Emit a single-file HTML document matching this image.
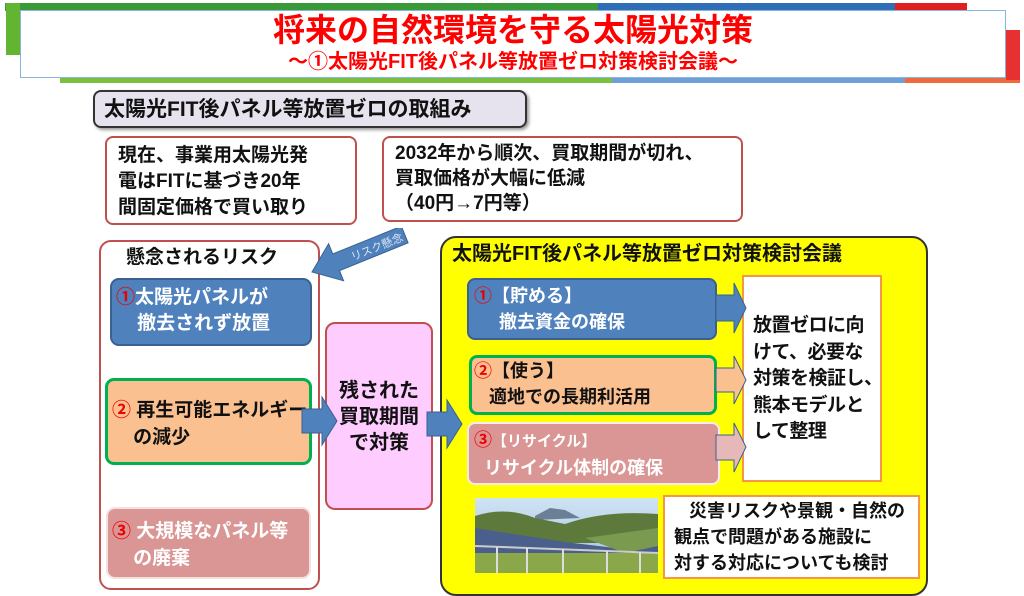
<!DOCTYPE html>
<html><head><meta charset="utf-8"><style>
*{margin:0;padding:0;box-sizing:border-box}
body{width:1024px;height:582px;overflow:hidden;background:#fff;position:relative;font-family:"Liberation Sans","Noto Sans CJK JP",sans-serif;font-weight:bold}
.a{position:absolute}
.t{color:#111}
svg.ar{z-index:5}
</style></head><body>
<!-- banner strips -->
<div class="a" style="left:5px;top:3px;width:593px;height:8px;background:#3a9a3a"></div>
<div class="a" style="left:598px;top:3px;width:297px;height:8px;background:#2f6fb8"></div>
<div class="a" style="left:895px;top:3px;width:72px;height:8px;background:#e02020"></div>
<div class="a" style="left:6px;top:3px;width:14px;height:52px;background:#62b530"></div>
<div class="a" style="left:60px;top:68px;width:552px;height:15px;background:#7cc040"></div>
<div class="a" style="left:612px;top:68px;width:293px;height:15px;background:#6ea0d8"></div>
<div class="a" style="left:905px;top:68px;width:115px;height:15px;background:#f06a40"></div>
<div class="a" style="left:1006px;top:30px;width:14px;height:50px;background:#e83030"></div>
<div class="a" style="left:20px;top:10px;width:986px;height:68px;background:#fff;border:1px solid #8ab4e0"></div>
<div class="a" style="left:20px;top:12px;width:986px;text-align:center;color:#f00;font-size:32px;line-height:36px">将来の自然環境を守る太陽光対策</div>
<div class="a" style="left:20px;top:50px;width:986px;text-align:center;color:#f00;font-size:20px;line-height:24px">～①太陽光FIT後パネル等放置ゼロ対策検討会議～</div>

<div class="a" style="left:93px;top:90px;width:434px;height:38px;background:#e6e2ee;border:2px solid #333;border-radius:8px;box-shadow:2px 2px 3px #999"></div>
<div class="a t" style="left:104px;top:98px;font-size:21px;line-height:24px">太陽光FIT後パネル等放置ゼロの取組み</div>

<div class="a t" style="left:105px;top:136px;width:252px;height:89px;border:2px solid #c0504d;border-radius:8px;padding:5px 0 0 11px;font-size:19px;line-height:26px">現在、事業用太陽光発<br>電はFITに基づき20年<br>間固定価格で買い取り</div>
<div class="a t" style="left:382px;top:136px;width:361px;height:86px;border:2px solid #c0504d;border-radius:8px;padding:3px 0 0 11px;font-size:19px;line-height:25px">2032年から順次、買取期間が切れ、<br>買取価格が大幅に低減<br>（40円→7円等）</div>

<!-- left box -->
<div class="a" style="left:99px;top:240px;width:221px;height:350px;border:2px solid #c0504d;border-radius:12px"></div>
<div class="a t" style="left:126px;top:246px;font-size:19px;line-height:24px">懸念されるリスク</div>
<svg class="a ar" style="left:300px;top:228px" width="120" height="60"><g transform="translate(12,44) rotate(-22)"><polygon points="0,0 26,-20 26,-9 100,-9 100,9 26,9 26,20" fill="#4f81bd" stroke="#3a6190"/><text x="42" y="5" font-size="11" fill="#dde6f4" font-family="Noto Sans CJK JP,sans-serif" font-weight="normal">リスク懸念</text></g></svg>

<div class="a" style="left:110px;top:278px;width:202px;height:68px;background:#4f81bd;border:2px solid #3a6190;border-radius:9px"></div>
<div class="a" style="left:116px;top:285px;color:#fff;font-size:19px;line-height:26px"><span style="color:#e00">①</span>太陽光パネルが<br>&nbsp;&nbsp;&nbsp;&nbsp;撤去されず放置</div>
<div class="a" style="left:105px;top:378px;width:207px;height:87px;background:#fac090;border:3px solid #00b050;border-radius:9px"></div>
<div class="a t" style="left:112px;top:397px;font-size:19px;line-height:27px;white-space:nowrap"><span style="color:#e00">②</span> 再生可能エネルギー<br>&nbsp;&nbsp;&nbsp;&nbsp;の減少</div>
<div class="a" style="left:106px;top:507px;width:205px;height:72px;background:#d99694;border:2px solid #f4e0e0;border-radius:9px"></div>
<div class="a" style="left:112px;top:518px;color:#fff;font-size:19px;line-height:27px"><span style="color:#e00">③</span> 大規模なパネル等<br>&nbsp;&nbsp;&nbsp;&nbsp;の廃棄</div>

<div class="a t" style="left:325px;top:322px;width:108px;height:188px;background:#ffccff;border:2px solid #c0504d;border-radius:10px;text-align:center;padding-top:54px;font-size:20px;line-height:26px">残された<br>買取期間<br>で対策</div>

<!-- yellow -->
<div class="a" style="left:440px;top:236px;width:488px;height:360px;background:#ffff00;border:2px solid #333;border-radius:16px"></div>
<svg class="a ar" style="left:300px;top:395px" width="40" height="55"><polygon points="2,14 22,14 22,2 37,26 22,50 22,38 2,38" fill="#4f81bd" stroke="#3a6190"/></svg>
<svg class="a ar" style="left:425px;top:398px" width="40" height="55"><polygon points="2,14 22,14 22,2 37,26 22,50 22,38 2,38" fill="#4f81bd" stroke="#3a6190"/></svg>
<div class="a t" style="left:452px;top:242px;font-size:20px;line-height:24px">太陽光FIT後パネル等放置ゼロ対策検討会議</div>
<div class="a" style="left:467px;top:278px;width:250px;height:62px;background:#4f81bd;border:2px solid #3a6190;border-radius:8px"></div>
<div class="a" style="left:474px;top:283px;color:#fff;font-size:18px;line-height:26px"><span style="color:#e00">①</span>【貯める】<br>&nbsp;&nbsp;&nbsp;&nbsp;&nbsp;撤去資金の確保</div>
<div class="a" style="left:469px;top:355px;width:248px;height:60px;background:#fac090;border:3px solid #00b050;border-radius:8px"></div>
<div class="a t" style="left:474px;top:358px;font-size:18px;line-height:26px"><span style="color:#e00">②</span>【使う】<br>&nbsp;&nbsp;&nbsp;適地での長期利活用</div>
<div class="a" style="left:467px;top:422px;width:253px;height:63px;background:#d99694;border:2px solid #fbeaea;border-radius:8px"></div>
<div class="a" style="left:474px;top:427px;color:#fff;font-size:18px;line-height:26px"><span style="color:#e00">③</span><span style="font-size:15px">【リサイクル】</span><br>&nbsp;&nbsp;リサイクル体制の確保</div>
<div class="a t" style="left:742px;top:275px;width:140px;height:207px;background:#fff;border:2px solid #f79646;padding:36px 0 0 9px;font-size:19px;line-height:26.5px;white-space:nowrap;letter-spacing:-0.5px">放置ゼロに向<br>けて、必要な<br>対策を検証し、<br>熊本モデルと<br>して整理</div>
<svg class="a ar" style="left:714px;top:280px" width="40" height="210">
<polygon points="2,15 20,15 20,3 32,28 20,53 20,41 2,41" fill="#4f81bd" stroke="#3a6190"/>
<polygon points="2,88 20,88 20,76 32,100 20,124 20,112 2,112" fill="#fac090" stroke="#3a6190"/>
<polygon points="2,155 20,155 20,143 32,167 20,192 20,180 2,180" fill="#e6b9b8" stroke="#3a6190"/></svg>
<svg class="a" style="left:475px;top:498px" width="183" height="75">
<defs><linearGradient id="s" x1="0" y1="0" x2="0" y2="1"><stop offset="0" stop-color="#cfe3f3"/><stop offset="1" stop-color="#9fc2e0"/></linearGradient></defs>
<rect width="183" height="75" fill="url(#s)"/>
<polygon points="60,18 75,10 90,12 105,20 60,22" fill="#6b7f95"/>
<path d="M0,18 Q30,8 60,20 L90,26 Q130,12 183,16 L183,45 L0,45Z" fill="#5d7a3c"/>
<polygon points="0,30 90,44 140,50 183,46 183,60 0,60" fill="#4a5f8c"/>
<polygon points="110,40 183,30 183,48 150,55" fill="#7a9a50"/>
<rect x="0" y="55" width="183" height="20" fill="#8aa84a"/>
<line x1="0" y1="48" x2="183" y2="55" stroke="#ccc" stroke-width="2"/>
<g stroke="#ddd" stroke-width="2"><line x1="22" y1="49" x2="22" y2="75"/><line x1="52" y1="50" x2="52" y2="75"/><line x1="88" y1="51" x2="88" y2="75"/><line x1="132" y1="53" x2="132" y2="75"/><line x1="165" y1="54" x2="165" y2="75"/></g>
</svg>
<div class="a t" style="left:663px;top:495px;width:257px;height:84px;background:#fff;border:2px solid #f79646;padding:1px 0 0 9px;font-size:18px;line-height:26px">&nbsp;&nbsp;&nbsp;災害リスクや景観・自然の<br>観点で問題がある施設に<br>対する対応についても検討</div>
</body></html>
